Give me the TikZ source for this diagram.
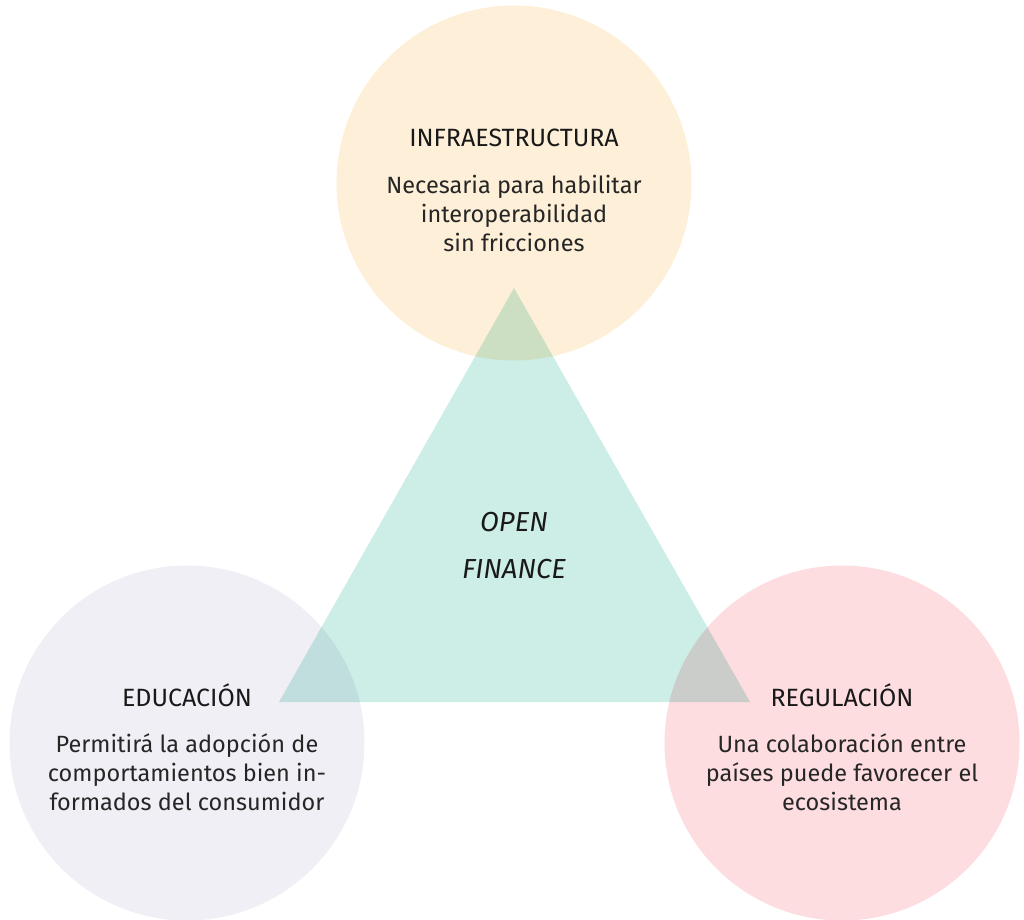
\documentclass[tikz,border=0pt]{standalone}
\usepackage{fontspec}
\setmainfont{Fira Sans}
\begin{document}
\begin{tikzpicture}[x=1pt,y=-1pt,
  circ/.style={circle,minimum size=355pt,inner sep=0pt},
  head/.style={font=\fontsize{25}{28}\selectfont,text=black!90},
  body/.style={font=\fontsize{23.5}{29}\selectfont,align=center,text=black!85},
  ctr/.style={font=\fontsize{27.5}{30}\selectfont\itshape,text=black!90}]
\useasboundingbox (0,0) rectangle (1024,919);
\definecolor{peach}{HTML}{FEF0D8}
\definecolor{lilac}{HTML}{F0EFF5}
\definecolor{pink}{HTML}{FDDDE0}
\definecolor{teal}{HTML}{CDEDE7}
\node[circ,fill=peach] (top) at (514,183) {};
\node[circ,fill=lilac] (left) at (187,743) {};
\node[circ,fill=pink] (right) at (842,743) {};
\coordinate (a) at (514,288);
\coordinate (b) at (279,702);
\coordinate (c) at (750,702);
\begin{scope}[blend mode=multiply]
\fill[teal] (a) -- (b) -- (c) -- cycle;
\end{scope}
\node[head] (th) at (514,138) {INFRAESTRUCTURA};
\node[body] (tb) at (514,213) {Necesaria para habilitar\\interoperabilidad\\sin fricciones};
\node[head] (lh) at (187,695) {EDUCACIÓN};
\node[body] (lb) at (187,772) {Permitirá la adopción de\\comportamientos bien in-\\formados del consumidor};
\node[head] (rh) at (842,695) {REGULACIÓN};
\node[body] (rb) at (842,772) {Una colaboración entre\\países puede favorecer el\\ecosistema};
\node[ctr] (o) at (514,522) {OPEN};
\node[ctr] (f) at (514,569) {FINANCE};
\end{tikzpicture}
\end{document}
